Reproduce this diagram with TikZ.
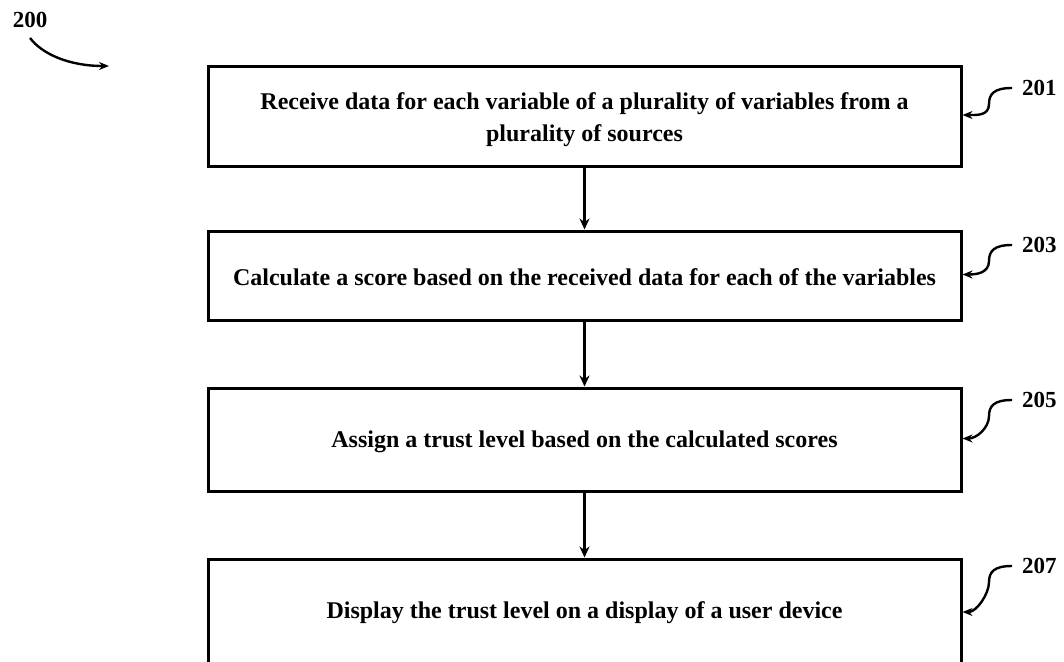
\documentclass[tikz,border=0pt]{standalone}
\usepackage{fontspec}
\setmainfont{Liberation Serif}
\usetikzlibrary{arrows.meta}
\begin{document}
\begin{tikzpicture}[x=1pt,y=-1pt,
  stepbox/.style={draw=black,line width=3pt,rectangle,minimum width=753pt,inner sep=0pt},
  steptext/.style={align=center,inner sep=0pt,font=\fontsize{24}{32}\selectfont\bfseries},
  flow/.style={line width=2.4pt,-{Stealth[length=11pt,width=10pt]}},
  reflabel/.style={font=\fontsize{23}{26}\selectfont\bfseries,inner sep=0pt},
  lead/.style={line width=2.4pt,-{Stealth[length=10pt,width=8pt]}}]
\useasboundingbox (0,0) rectangle (1064,661);
\clip (0,0) rectangle (1064,661);
\node[stepbox,minimum height=100pt,label={[steptext,yshift=-4pt]center:{Receive data for each variable of a plurality of variables from a\\plurality of sources}}] (b1) at (584.5,116) {};
\node[stepbox,minimum height=89pt,label={[steptext,yshift=-2pt]center:{Calculate a score based on the received data for each of the variables}}] (b2) at (584.5,275.5) {};
\node[stepbox,minimum height=103pt,label={[steptext,yshift=-2pt]center:{Assign a trust level based on the calculated scores}}] (b3) at (584.5,439.5) {};
\node[stepbox,minimum height=108pt,label={[steptext,yshift=0pt]center:{Display the trust level on a display of a user device}}] (b4) at (584.5,613) {};
\draw[flow] (b1.south) -- (b2.north);
\draw[flow] (b2.south) -- (b3.north);
\draw[flow] (b3.south) -- (b4.north);
\node[reflabel,anchor=west] (l201) at (1022,88) {201};
\node[reflabel,anchor=west] (l203) at (1022,245) {203};
\node[reflabel,anchor=west] (l205) at (1022,400) {205};
\node[reflabel,anchor=west] (l207) at (1022,566) {207};
\foreach \l/\b in {l201/b1,l203/b2,l205/b3,l207/b4}{
  \draw[lead] ([xshift=-10pt]\l.west) .. controls +(-18,0) and +(0,-10) .. ++(-23,16) .. controls +(0,12) and +(14,0) .. ([yshift=1pt]\b.east);
}
\node[reflabel] (l200) at (30,20) {200};
\coordinate (e200) at (109,66);
\draw[lead] ([yshift=-10pt]l200.south) .. controls +(12,16) and +(-40,0) .. (e200);
\end{tikzpicture}
\end{document}
